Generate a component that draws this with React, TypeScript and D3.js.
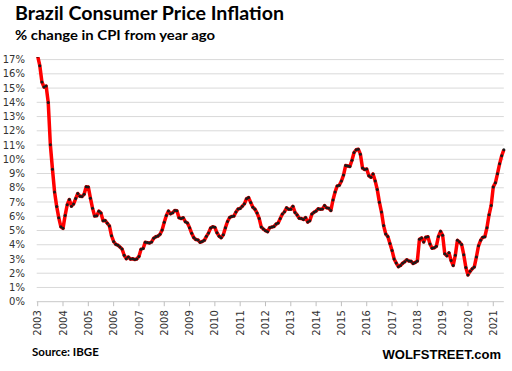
import * as d3 from "d3";

// 12-month CPI change (%), monthly, May 2003 .. Oct 2021
const v2003 = [17.24, 16.57, 15.43, 15.07, 15.14, 13.98, 11.02, 9.3]; // May-Dec
const v2004 = [7.71, 6.69, 5.89, 5.26, 5.15, 6.06, 6.81, 7.18, 6.71, 6.86, 7.24, 7.6];
const v2005 = [7.41, 7.39, 7.54, 8.07, 8.05, 7.27, 6.57, 6.02, 6.04, 6.36, 6.22, 5.69];
const v2006 = [5.7, 5.51, 5.32, 4.63, 4.23, 4.03, 3.97, 3.84, 3.7, 3.26, 3.02, 3.14];
const v2007 = [2.99, 3.02, 2.96, 3.0, 3.18, 3.69, 3.74, 4.18, 4.15, 4.12, 4.19, 4.46];
const v2008 = [4.56, 4.61, 4.73, 5.04, 5.58, 6.06, 6.37, 6.17, 6.25, 6.41, 6.39, 5.9];
const v2009 = [5.84, 5.9, 5.61, 5.53, 5.2, 4.8, 4.5, 4.36, 4.34, 4.17, 4.22, 4.31];
const v2010 = [4.59, 4.83, 5.17, 5.26, 5.22, 4.84, 4.6, 4.49, 4.7, 5.2, 5.63, 5.91];
const v2011 = [5.99, 6.01, 6.3, 6.51, 6.55, 6.71, 6.87, 7.23, 7.31, 6.97, 6.64, 6.5];
const v2012 = [6.22, 5.85, 5.24, 5.1, 4.99, 4.92, 5.2, 5.24, 5.28, 5.45, 5.53, 5.84];
const v2013 = [6.15, 6.31, 6.59, 6.49, 6.5, 6.7, 6.27, 6.09, 5.86, 5.84, 5.77, 5.91];
const v2014 = [5.59, 5.68, 6.15, 6.28, 6.37, 6.52, 6.5, 6.51, 6.75, 6.59, 6.56, 6.41];
const v2015 = [7.14, 7.7, 8.13, 8.17, 8.47, 8.89, 9.56, 9.53, 9.49, 9.93, 10.48, 10.67];
const v2016 = [10.71, 10.36, 9.39, 9.28, 9.32, 8.84, 8.74, 8.97, 8.48, 7.87, 6.99, 6.29];
const v2017 = [5.35, 4.76, 4.57, 4.08, 3.6, 3.0, 2.71, 2.46, 2.54, 2.7, 2.8, 2.95];
const v2018 = [2.86, 2.84, 2.68, 2.76, 2.86, 4.39, 4.48, 4.19, 4.53, 4.56, 4.05, 3.75];
const v2019 = [3.78, 3.89, 4.58, 4.94, 4.66, 3.37, 3.22, 3.43, 2.89, 2.54, 3.27, 4.31];
const v2020 = [4.19, 4.01, 3.3, 2.4, 1.88, 2.13, 2.31, 2.44, 3.14, 3.92, 4.31, 4.52];
const v2021 = [4.56, 5.2, 6.1, 6.76, 8.06, 8.35, 8.99, 9.68, 10.25, 10.67]; // Jan-Oct

const values = [
  ...v2003, ...v2004, ...v2005, ...v2006, ...v2007, ...v2008, ...v2009,
  ...v2010, ...v2011, ...v2012, ...v2013, ...v2014, ...v2015, ...v2016,
  ...v2017, ...v2018, ...v2019, ...v2020, ...v2021,
];

const yearLabels = d3.range(2003, 2022).map(String);
const yTicks = d3.range(0, 18);

const W = 512;
const H = 371;
const left = 37.7;
const monthW = 25.31 / 12;

const App = () => {
  const x = d3
    .scaleLinear()
    .domain([0, values.length - 1])
    .range([left, left + (values.length - 1) * monthW]);
  const y = d3.scaleLinear().domain([0, 17]).range([301.7, 59.6]);

  const line = d3
    .line<number>()
    .x((d, i) => x(i))
    .y((d) => y(d));

  const x0 = x(0);
  const x1 = x(values.length - 1);

  return (
    <svg
      width={W}
      height={H}
      style={{ position: "absolute", left: 0, top: 0, background: "#fff" }}
    >
      <defs>
        <clipPath id="plot">
          <rect x={0} y={57} width={W} height={260} />
        </clipPath>
      </defs>

      {/* titles */}
      <text
        x={15}
        y={20}
        fontFamily="Lato"
        fontWeight="bold"
        fontSize={18}
        textLength={269}
        lengthAdjust="spacingAndGlyphs"
        fill="#000"
      >
        Brazil Consumer Price Inflation
      </text>
      <text
        x={15}
        y={40}
        fontFamily="Lato"
        fontWeight="bold"
        fontSize={13.5}
        textLength={200}
        lengthAdjust="spacingAndGlyphs"
        fill="#000"
      >
        % change in CPI from year ago
      </text>

      {/* gridlines + y labels */}
      {yTicks.map((t) => (
        <g key={t}>
          <line
            x1={x0 - 1}
            x2={x1}
            y1={y(t)}
            y2={y(t)}
            stroke={t === 0 ? "#c8c8c8" : "#d9d9d9"}
            strokeWidth={1}
          />
          <text
            x={25}
            y={y(t)}
            dy="0.36em"
            textAnchor="end"
            fontFamily="DejaVu Sans"
            fontSize={10}
            fill="#333"
          >
            {t}%
          </text>
        </g>
      ))}

      {/* x ticks and labels */}
      {yearLabels.map((lab, k) => {
        const xi = x(k * 12);
        return (
          <g key={lab}>
            <line x1={xi} x2={xi} y1={y(0)} y2={y(0) + 4.5} stroke="#bfbfbf" />
            <text
              transform={`translate(${xi},${y(0) + 8.5}) rotate(-90)`}
              dy="0.36em"
              textAnchor="end"
              fontFamily="DejaVu Sans"
              fontSize={10}
              fill="#333"
            >
              {lab}
            </text>
          </g>
        );
      })}

      {/* series */}
      <g clipPath="url(#plot)">
        <path
          d={line(values) ?? ""}
          fill="none"
          stroke="#ff0000"
          strokeWidth={3.5}
          strokeLinejoin="round"
        />
        {values.map((v, i) => (
          <circle key={i} cx={x(i)} cy={y(v)} r={1.5} fill="#1a1a1a" />
        ))}
      </g>

      {/* footer */}
      <text
        x={32}
        y={356}
        fontFamily="Lato"
        fontWeight="bold"
        fontSize={11.5}
        fill="#000"
      >
        Source: IBGE
      </text>
      <text
        x={501}
        y={359}
        textAnchor="end"
        fontFamily="Liberation Sans"
        fontWeight="bold"
        fontSize={13}
        fill="#000"
      >
        WOLFSTREET.com
      </text>
    </svg>
  );
};

export default App;
